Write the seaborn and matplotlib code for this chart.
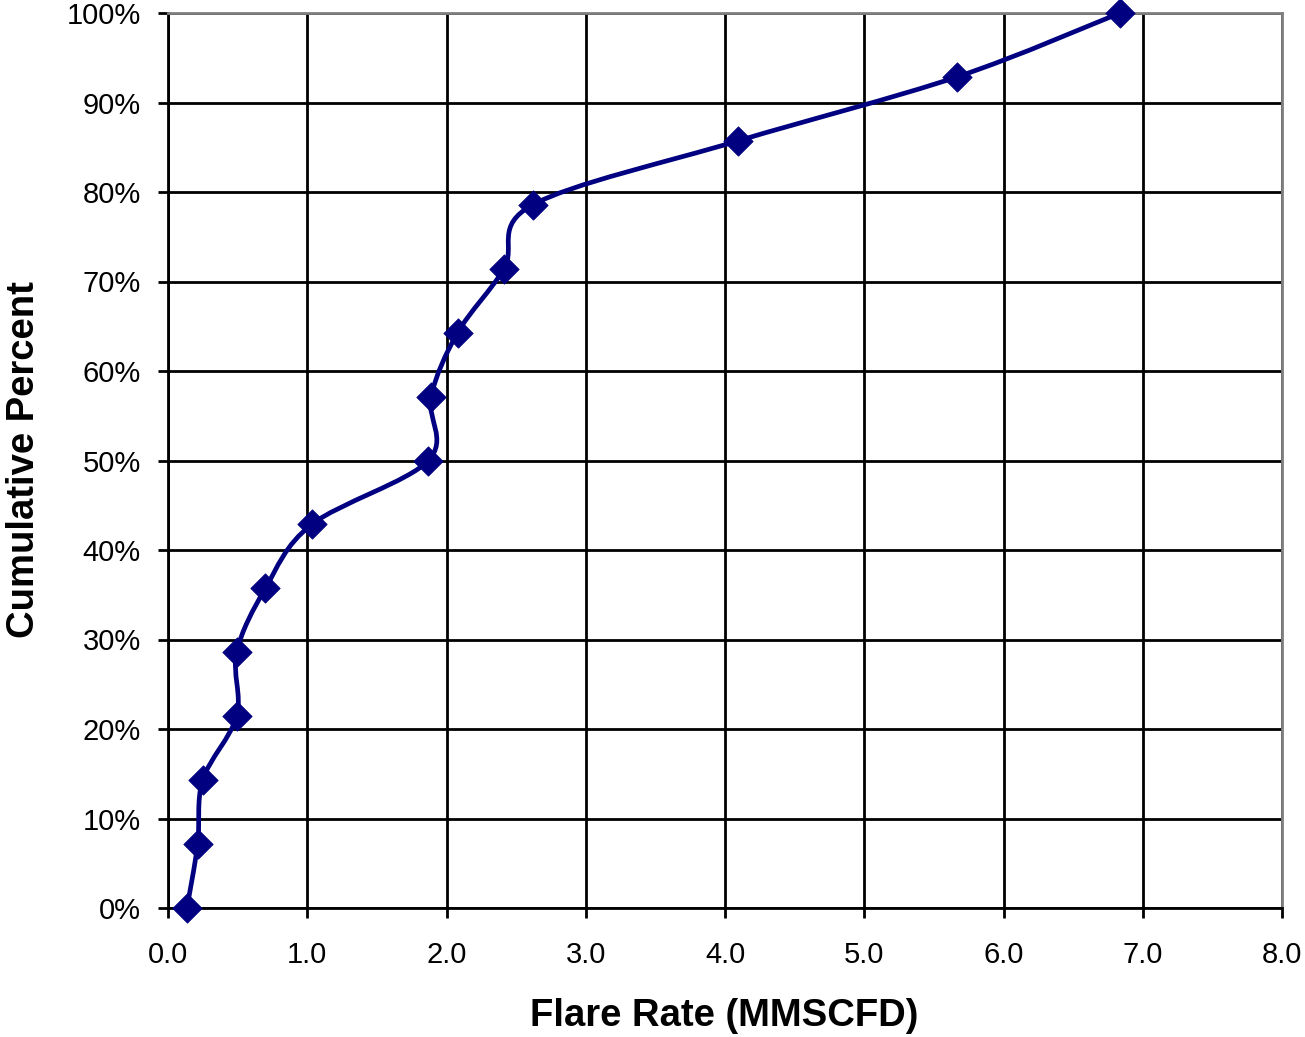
"""
Cumulative distribution of flare rates, drawn Excel-style with a smoothed line.
"""

import matplotlib
matplotlib.use("Agg")
import matplotlib.pyplot as plt
from matplotlib.path import Path
from matplotlib.patches import PathPatch
from matplotlib.ticker import FuncFormatter
import numpy as np
import pandas as pd
import seaborn as sns

# --- Data ---
flare_rate = [0.136, 0.213, 0.249, 0.493, 0.493, 0.699, 1.032, 1.870,
              1.889, 2.080, 2.413, 2.619, 4.093, 5.666, 6.837]
cum_percent = [0.0, 7.14, 14.29, 21.43, 28.57, 35.71, 42.86, 50.0,
               57.14, 64.29, 71.43, 78.57, 85.71, 92.86, 100.0]
x_ticks = [0, 1, 2, 3, 4, 5, 6, 7, 8]
y_ticks = [0, 10, 20, 30, 40, 50, 60, 70, 80, 90, 100]

NAVY = "#000080"
FONT = ["Liberation Sans", "DejaVu Sans"]


def smooth_path(xs, ys):
    """Bezier path through the points, Catmull-Rom style control points (like Excel smoothing)."""
    pts = np.column_stack([xs, ys])
    n = len(pts)
    verts = [pts[0]]
    codes = [Path.MOVETO]
    for i in range(n - 1):
        p0 = pts[i - 1] if i > 0 else pts[i]
        p1 = pts[i]
        p2 = pts[i + 1]
        p3 = pts[i + 2] if i + 2 < n else pts[i + 1]
        c1 = p1 + (p2 - p0) / 6.0
        c2 = p2 - (p3 - p1) / 6.0
        verts += [c1, c2, p2]
        codes += [Path.CURVE4] * 3
    return Path(verts, codes)


sns.set_theme(style="white")
plt.rcParams["font.family"] = FONT

df = pd.DataFrame({"rate": flare_rate, "pct": cum_percent})

fig = plt.figure(figsize=(13.05, 10.37), dpi=100)
ax = fig.add_axes([168 / 1305, 1 - 908 / 1037, (1282 - 168) / 1305, (908 - 13) / 1037])

ax.add_patch(PathPatch(smooth_path(df["rate"], df["pct"]), facecolor="none",
                       edgecolor=NAVY, linewidth=3.4, zorder=2, clip_on=False))
sns.scatterplot(data=df, x="rate", y="pct", marker="D", s=225, color=NAVY,
                edgecolor=NAVY, linewidth=0.5, zorder=3, clip_on=False, ax=ax)

ax.set_xlim(0, 8)
ax.set_ylim(0, 100)
ax.set_xticks(x_ticks)
ax.set_yticks(y_ticks)
ax.xaxis.set_major_formatter(FuncFormatter(lambda v, pos: f"{v:.1f}"))
ax.yaxis.set_major_formatter(FuncFormatter(lambda v, pos: f"{v:.0f}%"))

ax.set_axisbelow(True)
ax.grid(True, color="black", linewidth=2.0)
for side in ["left", "bottom"]:
    ax.spines[side].set_color("black")
    ax.spines[side].set_linewidth(2.0)
for side in ["top", "right"]:
    ax.spines[side].set_color("#808080")
    ax.spines[side].set_linewidth(2.0)

ax.tick_params(axis="both", which="major", direction="out", length=7.5, width=2.0,
               color="black", labelsize=21, labelcolor="black")
ax.tick_params(axis="x", pad=16, bottom=True)
ax.tick_params(axis="y", pad=12, left=True)

ax.set_xlabel("Flare Rate (MMSCFD)", fontsize=27.5, fontweight="bold", color="black")
ax.set_ylabel("Cumulative Percent", fontsize=27.5, fontweight="bold", color="black")
ax.xaxis.label.set_va("center")
ax.yaxis.label.set_va("center")
ax.xaxis.set_label_coords(0.4995, (908 - 1016) / 895)
ax.yaxis.set_label_coords((24 - 168) / 1114, (908 - 460) / 895)

fig.savefig("out.png", dpi=100, facecolor="white")
plt.close(fig)
